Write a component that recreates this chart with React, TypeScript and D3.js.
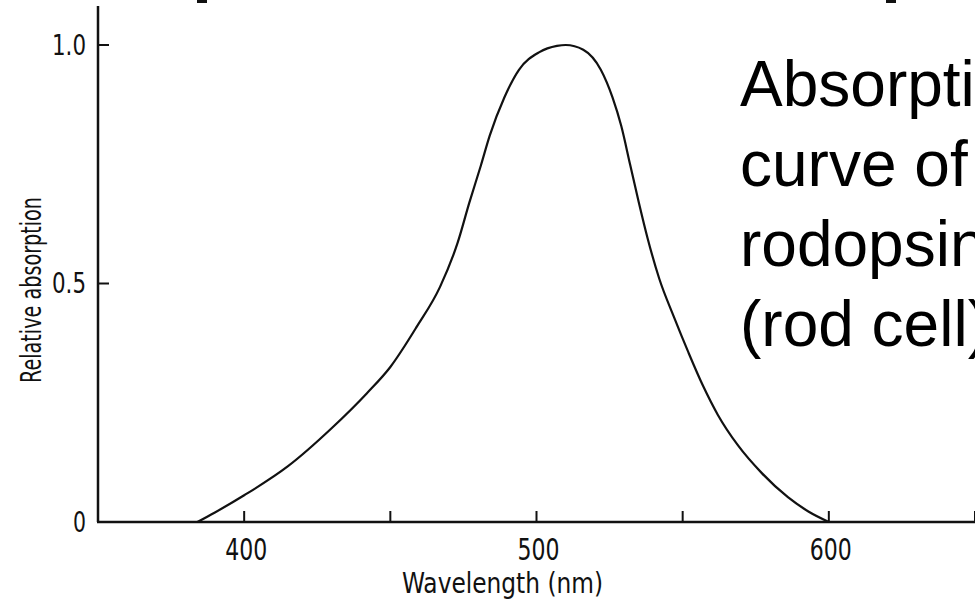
import React from "react";
import * as d3 from "d3";

// Relative absorption spectrum of rhodopsin (rod cell)
const wavelengths = [384, 390, 400, 415, 430, 442, 450, 459, 467, 473, 477, 481, 484, 489, 494, 501, 507, 510, 516, 522, 526, 529, 532, 535, 538, 542, 547, 552, 557, 562, 569, 577, 586, 593, 600];
const absorption = [0, 0.02, 0.056, 0.117, 0.197, 0.27, 0.325, 0.409, 0.493, 0.585, 0.669, 0.748, 0.81, 0.89, 0.948, 0.985, 0.998, 1.0, 0.99, 0.948, 0.89, 0.83, 0.75, 0.67, 0.595, 0.51, 0.43, 0.355, 0.285, 0.225, 0.16, 0.103, 0.052, 0.022, 0];

const xTicks = [400, 450, 500, 550, 600, 650];
const xTickLabels = ["400", "", "500", "", "600", ""];
const yTicks = [0, 0.5, 1.0];
const yTickLabels = ["0", "0.5", "1.0"];
const titleLines = ["Absorption", "curve of", "rodopsin", "(rod cell)"];

const W = 975;
const H = 604;
const axisFont = "'Liberation Sans Narrow', 'DejaVu Sans Condensed', sans-serif";

// narrow technical lettering: fixed advance per glyph
const labelWidth = (s: string, digit: number, dot: number) =>
  Array.from(s).reduce((acc, c) => acc + (c === "." ? dot : digit), 0);

export default function App() {
  const x = d3.scaleLinear().domain([350, 650]).range([98, 975]);
  const y = d3.scaleLinear().domain([0, 1]).range([522, 45]);

  const points: [number, number][] = wavelengths.map((w, i) => [w, absorption[i]]);
  const line = d3
    .line<[number, number]>()
    .x((d) => x(d[0]))
    .y((d) => y(d[1]))
    .curve(d3.curveMonotoneX);

  const ink = "#111";

  return (
    <svg
      width={W}
      height={H}
      viewBox={`0 0 ${W} ${H}`}
      style={{ position: "absolute", left: 0, top: 0, background: "#fff" }}
    >
      <rect x={0} y={0} width={W} height={H} fill="#fff" />

      {/* remnants of a heading above the figure */}
      <rect x={197} y={0} width={10} height={3} fill={ink} />
      <rect x={886} y={0} width={10} height={3} fill={ink} />

      {/* axes */}
      <line x1={x(350)} x2={x(350)} y1={6} y2={y(0)} stroke={ink} strokeWidth={2.5} />
      <line x1={x(350) - 1} x2={W} y1={y(0)} y2={y(0)} stroke={ink} strokeWidth={2.5} />

      {xTicks.map((t, i) => (
        <g key={`xt${t}`}>
          <line x1={x(t)} x2={x(t)} y1={y(0)} y2={y(0) - 11} stroke={ink} strokeWidth={2} />
          {xTickLabels[i] && (
            <text
              x={x(t) + 2}
              y={560}
              textAnchor="middle"
              fontFamily={axisFont}
              fontSize={31}
              textLength={labelWidth(xTickLabels[i], 14, 7)}
              lengthAdjust="spacingAndGlyphs"
              fill={ink}
            >
              {xTickLabels[i]}
            </text>
          )}
        </g>
      ))}

      {yTicks.map((t, i) => (
        <g key={`yt${t}`}>
          {t > 0 && (
            <line x1={x(350)} x2={x(350) + 11} y1={y(t)} y2={y(t)} stroke={ink} strokeWidth={2} />
          )}
          <text
            x={86}
            y={y(t)}
            textAnchor="end"
            dominantBaseline="central"
            fontFamily={axisFont}
            fontSize={28}
            textLength={labelWidth(yTickLabels[i], 13, 8)}
            lengthAdjust="spacingAndGlyphs"
            fill={ink}
          >
            {yTickLabels[i]}
          </text>
        </g>
      ))}

      <text
        x={402}
        y={593}
        fontFamily={axisFont}
        fontSize={28}
        textLength={201}
        lengthAdjust="spacingAndGlyphs"
        fill={ink}
      >
        Wavelength (nm)
      </text>

      <text
        transform={`translate(41, 290) rotate(-90)`}
        textAnchor="middle"
        fontFamily={axisFont}
        fontSize={28}
        textLength={186}
        lengthAdjust="spacingAndGlyphs"
        fill={ink}
      >
        Relative absorption
      </text>

      {/* spectrum curve */}
      <path d={line(points) ?? ""} fill="none" stroke={ink} strokeWidth={2.2} strokeLinejoin="round" />

      {/* caption */}
      <g fontFamily="'Liberation Sans', Arial, sans-serif" fontSize={64} fill="#000">
        {titleLines.map((t, i) => (
          <text key={t} x={740} y={106 + i * 80}>
            {t}
          </text>
        ))}
      </g>
    </svg>
  );
}
